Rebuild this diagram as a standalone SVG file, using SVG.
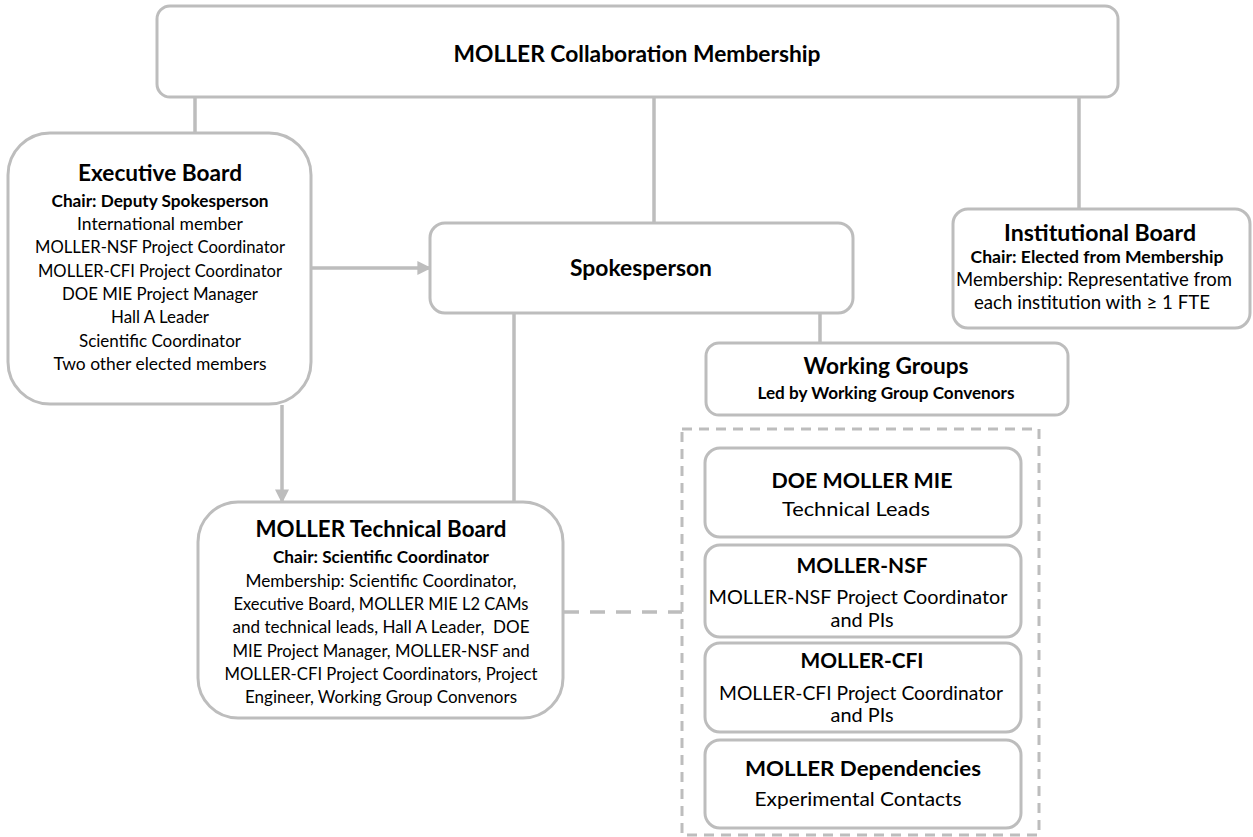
<svg xmlns="http://www.w3.org/2000/svg" width="1253" height="837" viewBox="0 0 1253 837">
<defs>
<style>
.box{fill:#fff;stroke:#bdbdbd;stroke-width:3}
.ln{stroke:#bdbdbd;stroke-width:3.5;fill:none}
.dash{stroke:#bdbdbd;stroke-width:3;fill:none;stroke-dasharray:10 7}
.dash2{stroke:#bdbdbd;stroke-width:3.5;fill:none;stroke-dasharray:15 11}
text{font-family:Lato,"Open Sans",sans-serif;fill:#000;text-anchor:middle}
.bold{font-weight:bold}
</style>
<marker id="ah" viewBox="0 0 10 10" refX="9" refY="5" markerWidth="4" markerHeight="4" orient="auto" markerUnits="strokeWidth">
<path d="M0,0 L10,5 L0,10 z" fill="#bdbdbd"/>
</marker>
</defs>
<rect width="1253" height="837" fill="#fff"/>
<g id="connectors">
<line class="ln" x1="195" y1="97" x2="195" y2="133"/>
<line class="ln" x1="654" y1="97" x2="654" y2="223"/>
<line class="ln" x1="1079" y1="97" x2="1079" y2="209"/>
<line class="ln" x1="311" y1="268" x2="430" y2="268" marker-end="url(#ah)"/>
<line class="ln" x1="282" y1="405" x2="282" y2="502" marker-end="url(#ah)"/>
<line class="ln" x1="514" y1="313" x2="514" y2="502"/>
<line class="ln" x1="820" y1="313" x2="820" y2="343"/>
<line class="dash2" x1="564" y1="612" x2="682" y2="612"/>
<rect class="dash" x="682" y="429" width="357" height="406"/>
</g>
<g id="membership">
<rect class="box" x="157" y="6" width="961" height="91" rx="13"/>
<text class="bold" x="637" y="62" font-size="22.9" textLength="367" lengthAdjust="spacingAndGlyphs">MOLLER Collaboration Membership</text>
</g>
<g id="executive-board" font-size="16.6">
<rect class="box" x="8" y="133" width="303" height="271" rx="42"/>
<text class="bold" x="160" y="181" font-size="22.5" textLength="164" lengthAdjust="spacingAndGlyphs">Executive Board</text>
<text class="bold" x="160" y="207" font-size="17.2" textLength="217" lengthAdjust="spacingAndGlyphs">Chair: Deputy Spokesperson</text>
<text x="160" y="230" textLength="166" lengthAdjust="spacingAndGlyphs">International member</text>
<text x="160" y="253" textLength="250" lengthAdjust="spacingAndGlyphs">MOLLER-NSF Project Coordinator</text>
<text x="160" y="277" textLength="244" lengthAdjust="spacingAndGlyphs">MOLLER-CFI Project Coordinator</text>
<text x="160" y="300" textLength="196" lengthAdjust="spacingAndGlyphs">DOE MIE Project Manager</text>
<text x="160" y="323" textLength="98" lengthAdjust="spacingAndGlyphs">Hall A Leader</text>
<text x="160" y="347" textLength="162" lengthAdjust="spacingAndGlyphs">Scientific Coordinator</text>
<text x="160" y="370" textLength="213" lengthAdjust="spacingAndGlyphs">Two other elected members</text>
</g>
<g id="spokesperson">
<rect class="box" x="430" y="223" width="423" height="90" rx="15"/>
<text class="bold" x="641" y="276" font-size="22.9" textLength="142" lengthAdjust="spacingAndGlyphs">Spokesperson</text>
</g>
<g id="institutional-board" font-size="18.6">
<rect class="box" x="953" y="209" width="297" height="119" rx="15"/>
<text class="bold" x="1100" y="241" font-size="23.2" textLength="192" lengthAdjust="spacingAndGlyphs">Institutional Board</text>
<text class="bold" x="1097" y="263" font-size="17.7" textLength="253" lengthAdjust="spacingAndGlyphs">Chair: Elected from Membership</text>
<text x="1094" y="286" textLength="276" lengthAdjust="spacingAndGlyphs">Membership: Representative from</text>
<text x="1092" y="309" textLength="236" lengthAdjust="spacingAndGlyphs">each institution with ≥ 1 FTE</text>
</g>
<g id="working-groups">
<rect class="box" x="706" y="343" width="362" height="72" rx="13"/>
<text class="bold" x="886" y="374" font-size="22.7" textLength="165" lengthAdjust="spacingAndGlyphs">Working Groups</text>
<text class="bold" x="886" y="399" font-size="17.1" textLength="257" lengthAdjust="spacingAndGlyphs">Led by Working Group Convenors</text>
</g>
<g id="technical-board" font-size="16.7">
<rect class="box" x="198" y="502" width="365" height="216" rx="40"/>
<text class="bold" x="381" y="537" font-size="22.5" textLength="251" lengthAdjust="spacingAndGlyphs">MOLLER Technical Board</text>
<text class="bold" x="381" y="563" font-size="17.2" textLength="216" lengthAdjust="spacingAndGlyphs">Chair: Scientific Coordinator</text>
<text x="381" y="587" textLength="271" lengthAdjust="spacingAndGlyphs">Membership: Scientific Coordinator,</text>
<text x="381" y="610" textLength="295" lengthAdjust="spacingAndGlyphs">Executive Board, MOLLER MIE L2 CAMs</text>
<text x="381" y="633" textLength="297" lengthAdjust="spacingAndGlyphs" xml:space="preserve">and technical leads, Hall A Leader,  DOE</text>
<text x="381" y="657" textLength="297" lengthAdjust="spacingAndGlyphs">MIE Project Manager, MOLLER-NSF and</text>
<text x="381" y="680" textLength="313" lengthAdjust="spacingAndGlyphs">MOLLER-CFI Project Coordinators, Project</text>
<text x="381" y="703" textLength="272" lengthAdjust="spacingAndGlyphs">Engineer, Working Group Convenors</text>
</g>
<g id="doe-moller-mie" font-size="20">
<rect class="box" x="705" y="448" width="316" height="89" rx="15"/>
<text class="bold" x="862" y="488" font-size="21.5" textLength="181" lengthAdjust="spacingAndGlyphs">DOE MOLLER MIE</text>
<text x="856" y="516" textLength="148" lengthAdjust="spacingAndGlyphs">Technical Leads</text>
</g>
<g id="moller-nsf" font-size="20">
<rect class="box" x="705" y="545" width="316" height="92" rx="15"/>
<text class="bold" x="862" y="573" font-size="21.5" textLength="131" lengthAdjust="spacingAndGlyphs">MOLLER-NSF</text>
<text x="858" y="604" textLength="299" lengthAdjust="spacingAndGlyphs">MOLLER-NSF Project Coordinator</text>
<text x="862" y="627" textLength="63" lengthAdjust="spacingAndGlyphs">and PIs</text>
</g>
<g id="moller-cfi" font-size="20">
<rect class="box" x="705" y="643" width="316" height="89" rx="15"/>
<text class="bold" x="862" y="668" font-size="21.5" textLength="123" lengthAdjust="spacingAndGlyphs">MOLLER-CFI</text>
<text x="861" y="700" textLength="284" lengthAdjust="spacingAndGlyphs">MOLLER-CFI Project Coordinator</text>
<text x="862" y="722" textLength="63" lengthAdjust="spacingAndGlyphs">and PIs</text>
</g>
<g id="moller-dependencies" font-size="20">
<rect class="box" x="705" y="740" width="316" height="88" rx="15"/>
<text class="bold" x="863" y="776" font-size="21.5" textLength="236" lengthAdjust="spacingAndGlyphs">MOLLER Dependencies</text>
<text x="858" y="806" textLength="207" lengthAdjust="spacingAndGlyphs">Experimental Contacts</text>
</g>
</svg>
